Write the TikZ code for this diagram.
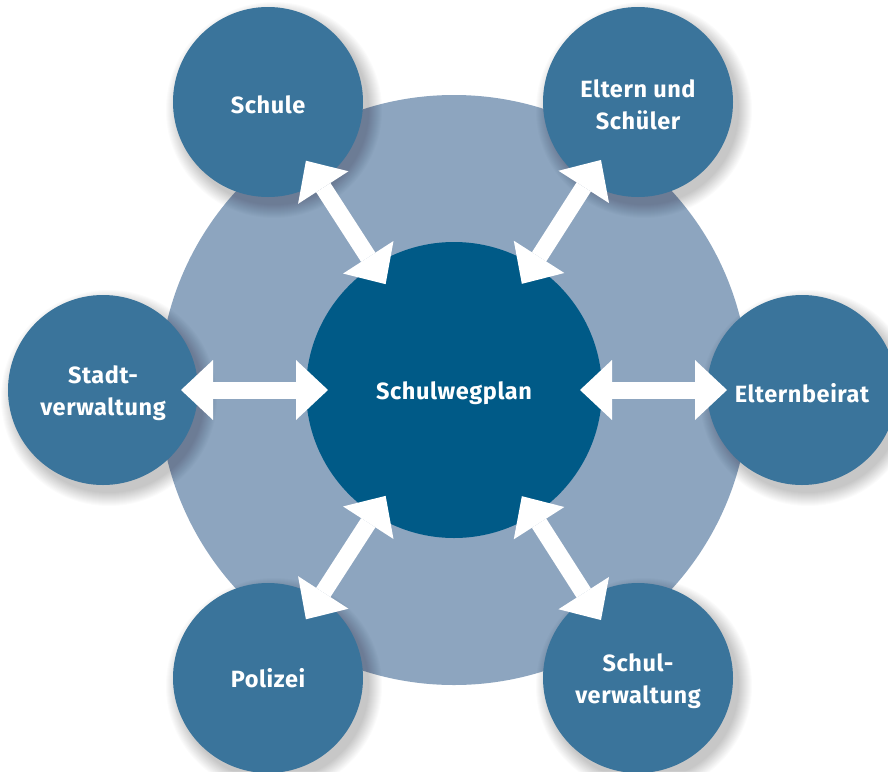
\documentclass[tikz,border=0pt]{standalone}
\usepackage{fontspec}
\setmainfont{Fira Sans}[LetterSpace=2.5]
\usetikzlibrary{calc,arrows.meta}
\definecolor{outerblue}{RGB}{58,116,155}
\definecolor{centerblue}{RGB}{0,90,135}
\definecolor{ringblue}{RGB}{141,165,191}
\newcommand{\low}[1]{\raisebox{-3pt}[\height][\depth]{#1}}
\tikzset{
  outer/.style={circle, fill=outerblue, minimum size=190pt, inner sep=0pt,
    text=white, align=center, font=\bfseries\fontsize{23.5}{32}\selectfont},
  centre/.style={circle, fill=centerblue, minimum size=296pt, inner sep=0pt,
    text=white, align=center, font=\bfseries\fontsize{23.5}{32}\selectfont},
  ring/.style={circle, fill=ringblue, minimum size=590pt, inner sep=0pt},
  biarrow/.style={white, line width=17pt,
    {Triangle[length=32pt,width=60pt,line width=0pt]}-{Triangle[length=32pt,width=60pt,line width=0pt]}}
}
\newcommand{\softshadow}[1]{%
  \foreach \k in {1,...,14}{
    \fill[black, opacity=0.014] ($(#1)+(6,8)$) circle ({95+14-\k});
  }}
\newcommand{\linkarrow}[2]{%
  \draw[biarrow] ($(#1)!126pt!(#2)$) -- ($(#1)!273pt!(#2)$);}
\begin{document}
\begin{tikzpicture}[x=1pt,y=-1pt]
\useasboundingbox (0,0) rectangle (888,771);
\clip (0,0) rectangle (888,771);
\fill[white] (0,0) rectangle (888,771);
\coordinate (pc) at (454,390);
\coordinate (p1) at (268,102);
\coordinate (p2) at (638,102);
\coordinate (p3) at (103,390);
\coordinate (p4) at (802,390);
\coordinate (p5) at (268,678);
\coordinate (p6) at (638,678);
\node[ring] (ring) at (pc) {};
\softshadow{p1}
\softshadow{p2}
\softshadow{p3}
\softshadow{p4}
\softshadow{p5}
\softshadow{p6}
\node[outer] (schule) at (p1) {\low{Schule}};
\node[outer] (eltern) at (p2) {\low{Eltern und}\\\low{Schüler}};
\node[outer] (stadt) at (p3) {\low{Stadt-}\\\low{verwaltung}};
\node[outer] (beirat) at (p4) {\low{Elternbeirat}};
\node[outer] (polizei) at (p5) {Polizei};
\node[outer] (schulv) at (p6) {\low{Schul-}\\\low{verwaltung}};
\node[centre] (plan) at (pc) {\low{Schulwegplan}};
\linkarrow{pc}{schule}
\linkarrow{pc}{eltern}
\linkarrow{pc}{stadt}
\linkarrow{pc}{beirat}
\linkarrow{pc}{polizei}
\linkarrow{pc}{schulv}
\end{tikzpicture}
\end{document}
